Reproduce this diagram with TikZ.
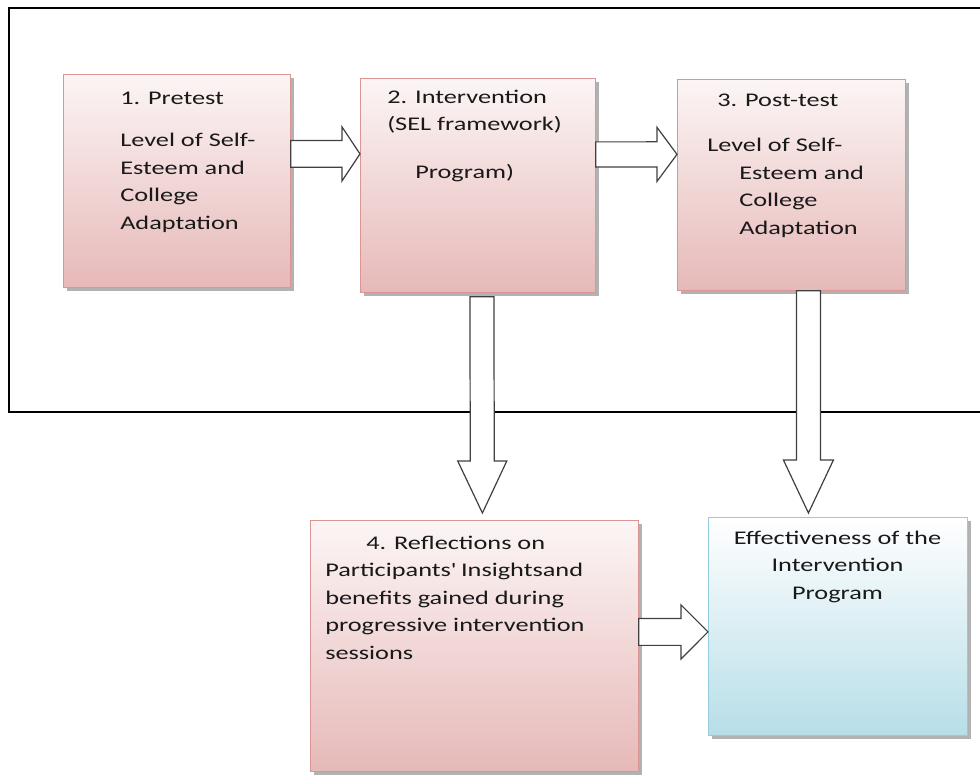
\documentclass[tikz,border=0pt]{standalone}
\usepackage{fontspec}
\setmainfont[FakeStretch=1.36]{Carlito}
\usepackage{tikz}
\usetikzlibrary{positioning,calc,shadows}
\definecolor{SEPink}{HTML}{E6B9B8}
\definecolor{SEPinkTop}{HTML}{FCF5F5}
\definecolor{SEPinkLine}{HTML}{D99694}
\definecolor{SEBlue}{HTML}{B7DEE8}
\definecolor{SEBlueLine}{HTML}{93CDDD}
\definecolor{SEArrow}{HTML}{404040}

\begin{document}
\begin{tikzpicture}[
    x=0.75pt, y=-0.75pt,
    pinkbox/.style={
      draw=SEPinkLine,
      line width=0.6pt,
      top color=SEPinkTop,
      bottom color=SEPink,
      drop shadow={shadow xshift=2.5pt, shadow yshift=-2.5pt, fill=black, opacity=0.3},
      inner sep=0pt,
      anchor=north west
    },
    bluebox/.style={
      draw=SEBlueLine,
      line width=0.6pt,
      top color=white,
      bottom color=SEBlue,
      drop shadow={shadow xshift=2.5pt, shadow yshift=-2.5pt, fill=black, opacity=0.3},
      inner sep=0pt,
      anchor=north west
    },
    txt/.style={
      font=\fontsize{14.5}{20.6}\selectfont,
      text=black!90,
      align=left,
      inner sep=0pt,
      anchor=base west
    },
    frame/.style={
      draw=black,
      line width=1pt
    },
    fatarrow/.style n args={3}{
      draw=SEArrow,
      line width=0.9pt,
      fill=white,
      to path={
        ($(\tikztostart)!#1!90:(\tikztotarget)$)
        -- ($($(\tikztotarget)!#3!(\tikztostart)$)!#1!90:(\tikztotarget)$)
        -- ($($(\tikztotarget)!#3!(\tikztostart)$)!#2!90:(\tikztotarget)$)
        -- (\tikztotarget)
        -- ($($(\tikztotarget)!#3!(\tikztostart)$)!#2!-90:(\tikztotarget)$)
        -- ($($(\tikztotarget)!#3!(\tikztostart)$)!#1!-90:(\tikztotarget)$)
        -- ($(\tikztostart)!#1!-90:(\tikztotarget)$)
        -- cycle
      }
    }
  ]
  \useasboundingbox (0,0) rectangle (980,782);

  % outer frame round the three stages
  \draw[frame] (981,8) -- (9,8) -- (9,412) -- (981,412);

  % top row: pretest, intervention, post-test
  \node[pinkbox, minimum width=170.25pt, minimum height=159.75pt] (pretest) at (63,74) {};
  \node[pinkbox, minimum width=176.25pt, minimum height=160.5pt] (interv) at (360,78) {};
  \node[pinkbox, minimum width=171pt, minimum height=158.25pt] (posttest) at (677,79) {};

  % bottom row: reflections and effectiveness
  \node[pinkbox, minimum width=246pt, minimum height=188.25pt] (reflect) at (310,520) {};
  \node[bluebox, minimum width=194.25pt, minimum height=163.5pt] (effect) at (708,517) {};

  % box texts (placed by the baseline of their last line)
  \node[txt] (pretestTxt) at (120,229) {1. Pretest\\[11pt]Level of Self-\\Esteem and\\College\\Adaptation};
  \node[txt] (intervTxt) at (387,178) {2. Intervention\\(SEL framework)\\[15pt]\hspace*{21pt}Program)};
  \node[txt] (postTxt) at (707,234) {\hspace*{7.5pt}3. Post-test\\[13pt]Level of Self-\\\hspace*{24pt}Esteem and\\\hspace*{24pt}College\\\hspace*{24pt}Adaptation};
  \node[txt] (reflectTxt) at (325,659) {\hspace*{30.75pt}4. Reflections on\\Participants\textquotesingle{} Insightsand\\benefits gained during\\progressive intervention\\sessions};
  \node[txt, align=center, anchor=base] (effectTxt) at (837.5,599) {Effectiveness of the\\Intervention\\Program};

  % block arrows between the stages
  \draw[fatarrow={10pt}{20.25pt}{13.5pt}] ([yshift=20.25pt]pretest.east) to ([yshift=23.6pt]interv.west);
  \draw[fatarrow={9.4pt}{20.25pt}{15pt}] ([yshift=23.25pt]interv.east) to ([yshift=22.9pt]posttest.west);
  \draw[fatarrow={9pt}{18.4pt}{39pt}] ([xshift=3pt,yshift=-3pt]interv.south) to ([xshift=6pt,yshift=5.25pt]reflect.north);
  \draw[fatarrow={9pt}{18.75pt}{39.75pt}] ([xshift=12.75pt]posttest.south) to ([xshift=-22.1pt,yshift=3pt]effect.north);
  \draw[fatarrow={10.1pt}{20.25pt}{20.25pt}] ([yshift=10.5pt]reflect.east) to ([yshift=-4.1pt]effect.west);

\end{tikzpicture}
\end{document}
